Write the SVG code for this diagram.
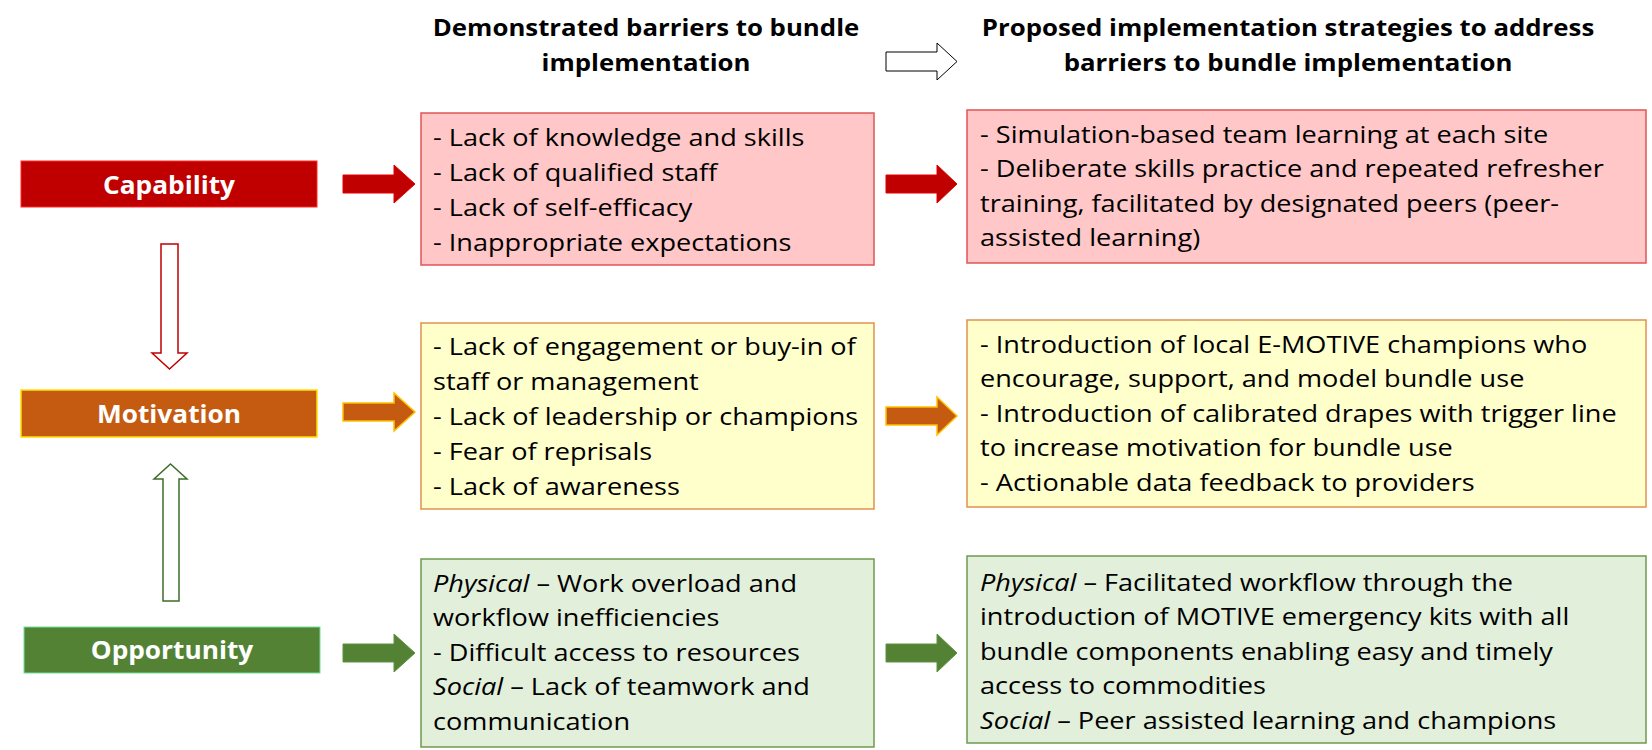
<svg xmlns="http://www.w3.org/2000/svg" width="1652" height="750" viewBox="0 0 1652 750">
<style>
  .hd { font-family: "Open Sans", "Liberation Sans", sans-serif; font-weight: bold; font-size: 24px; fill: #000; text-anchor: middle; }
  .lbl { font-family: "Open Sans", "Liberation Sans", sans-serif; font-weight: bold; font-size: 25px; fill: #fff; text-anchor: middle; }
  .tx { font-family: "Open Sans", "Liberation Sans", sans-serif; font-size: 24px; fill: #000; }
  .it { font-style: italic; }
  .capBox { fill: #FFC7C7; stroke: #E05555; stroke-width: 1.5; }
  .motBox { fill: #FFFFCC; stroke: #E0914F; stroke-width: 1.5; }
  .oppBox { fill: #E2EFDA; stroke: #6F9A4E; stroke-width: 1.5; }
  .capArr { fill: #C00000; stroke: #E00000; stroke-width: 1; }
  .motArr { fill: #C55A11; stroke: #FFC000; stroke-width: 1.5; }
  .oppArr { fill: #548235; stroke: #5E9140; stroke-width: 1; }
</style>

<g id="headings">
  <g transform="translate(646,0) scale(1.075,1)">
    <text class="hd" x="0" y="36">Demonstrated barriers to bundle</text>
    <text class="hd" x="0" y="71">implementation</text>
  </g>
  <g transform="translate(1288,0) scale(1.075,1)">
    <text class="hd" x="0" y="36">Proposed implementation strategies to address</text>
    <text class="hd" x="0" y="71">barriers to bundle implementation</text>
  </g>
</g>

<g id="node-capability">
  <rect x="21" y="161" width="296" height="46" fill="#C00000" stroke="#FF2A2A" stroke-width="1"/>
  <g transform="translate(169,0) scale(1.05,1)"><text class="lbl" x="0" y="194">Capability</text></g>
</g>
<g id="node-motivation">
  <rect x="21" y="390" width="296" height="47" fill="#C55A11" stroke="#FFE000" stroke-width="1.5"/>
  <g transform="translate(169,0) scale(1.05,1)"><text class="lbl" x="0" y="423">Motivation</text></g>
</g>
<g id="node-opportunity">
  <rect x="24" y="627" width="296" height="46" fill="#548235" stroke="#6EE39A" stroke-width="1"/>
  <g transform="translate(172,0) scale(1.05,1)"><text class="lbl" x="0" y="659">Opportunity</text></g>
</g>

<g id="node-cap-barriers">
  <rect class="capBox" x="421" y="113" width="453" height="152"/>
  <g transform="translate(433,0) scale(1.13,1)">
    <text class="tx" x="0" y="146">- Lack of knowledge and skills</text>
    <text class="tx" x="0" y="181">- Lack of qualified staff</text>
    <text class="tx" x="0" y="216">- Lack of self-efficacy</text>
    <text class="tx" x="0" y="251">- Inappropriate expectations</text>
  </g>
</g>
<g id="node-cap-strategies">
  <rect class="capBox" x="967" y="110" width="679" height="153"/>
  <g transform="translate(980,0) scale(1.13,1)">
    <text class="tx" x="0" y="143">- Simulation-based team learning at each site</text>
    <text class="tx" x="0" y="177.5">- Deliberate skills practice and repeated refresher</text>
    <text class="tx" x="0" y="212">training, facilitated by designated peers (peer-</text>
    <text class="tx" x="0" y="246.5">assisted learning)</text>
  </g>
</g>

<g id="node-mot-barriers">
  <rect class="motBox" x="421" y="323" width="453" height="186"/>
  <g transform="translate(433,0) scale(1.13,1)">
    <text class="tx" x="0" y="355">- Lack of engagement or buy-in of</text>
    <text class="tx" x="0" y="390">staff or management</text>
    <text class="tx" x="0" y="425">- Lack of leadership or champions</text>
    <text class="tx" x="0" y="460">- Fear of reprisals</text>
    <text class="tx" x="0" y="495">- Lack of awareness</text>
  </g>
</g>
<g id="node-mot-strategies">
  <rect class="motBox" x="967" y="320" width="679" height="187"/>
  <g transform="translate(980,0) scale(1.13,1)">
    <text class="tx" x="0" y="353">- Introduction of local E-MOTIVE champions who</text>
    <text class="tx" x="0" y="387.5">encourage, support, and model bundle use</text>
    <text class="tx" x="0" y="422">- Introduction of calibrated drapes with trigger line</text>
    <text class="tx" x="0" y="456.5">to increase motivation for bundle use</text>
    <text class="tx" x="0" y="491">- Actionable data feedback to providers</text>
  </g>
</g>

<g id="node-opp-barriers">
  <rect class="oppBox" x="421" y="559" width="453" height="188"/>
  <g transform="translate(433,0) scale(1.13,1)">
    <text class="tx" x="0" y="592"><tspan class="it">Physical</tspan> – Work overload and</text>
    <text class="tx" x="0" y="626.5">workflow inefficiencies</text>
    <text class="tx" x="0" y="661">- Difficult access to resources</text>
    <text class="tx" x="0" y="695.5"><tspan class="it">Social</tspan> – Lack of teamwork and</text>
    <text class="tx" x="0" y="730">communication</text>
  </g>
</g>
<g id="node-opp-strategies">
  <rect class="oppBox" x="967" y="556" width="679" height="187"/>
  <g transform="translate(980,0) scale(1.13,1)">
    <text class="tx" x="0" y="591"><tspan class="it">Physical</tspan> – Facilitated workflow through the</text>
    <text class="tx" x="0" y="625.5">introduction of MOTIVE emergency kits with all</text>
    <text class="tx" x="0" y="660">bundle components enabling easy and timely</text>
    <text class="tx" x="0" y="694.5">access to commodities</text>
    <text class="tx" x="0" y="729"><tspan class="it">Social</tspan> – Peer assisted learning and champions</text>
  </g>
</g>

<g id="connectors">
  <path d="M886,52 H937 V43 L957,61.5 L937,80 V71 H886 Z" fill="#fff" stroke="#000" stroke-width="1"/>
  <path class="capArr" d="M343,175 H394 V165 L415,184 L394,203 V193 H343 Z"/>
  <path class="capArr" d="M886,175 H937 V165 L957,184 L937,203 V193 H886 Z"/>
  <path class="motArr" d="M343,403 H394 V393 L415,412 L394,431 V421 H343 Z"/>
  <path class="motArr" d="M886,407 H937 V397 L957,416 L937,435 V425 H886 Z"/>
  <path class="oppArr" d="M343,644 H394 V634 L415,653 L394,672 V662 H343 Z"/>
  <path class="oppArr" d="M886,644 H937 V634 L957,653 L937,672 V662 H886 Z"/>
  <path d="M161,244 H178 V353 H187 L169.5,369 L152,353 H161 Z" fill="#fff" stroke="#C00000" stroke-width="1.5"/>
  <path d="M163,601 V479 H154 L170.5,464 L187,479 H179 V601 Z" fill="#fff" stroke="#3F6B2A" stroke-width="1.5"/>
</g>
</svg>
